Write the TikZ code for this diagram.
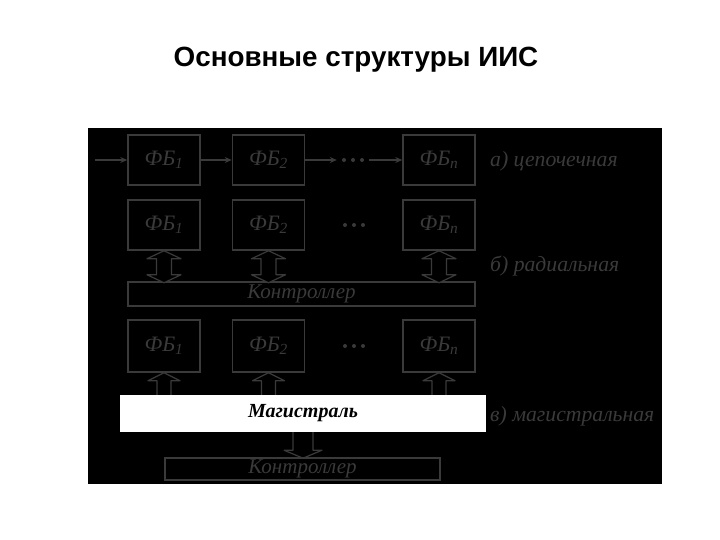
\documentclass[tikz,border=0pt]{standalone}
\usepackage{fontspec}
\setmainfont{Liberation Serif}
\newfontfamily\titlefont{Liberation Sans}
\usetikzlibrary{arrows.meta}
\definecolor{dk}{HTML}{3A3A3A}
\tikzset{
  fbbox/.style={draw=dk, line width=1.5pt, fill=black, minimum width=72pt, minimum height=50pt,
    inner sep=0pt, text=dk, font=\fontsize{22}{24}\selectfont\itshape},
  ctrl/.style={draw=dk, line width=1.5pt, fill=black, inner sep=0pt, text=dk,
    font=\fontsize{21}{22}\selectfont\itshape},
  dotsnode/.style={inner sep=0pt, minimum width=32pt, minimum height=8pt},
  dotmark/.style={fill=dk},
  conn/.style={draw=dk, line width=1.2pt, -{Stealth[length=7pt,width=6pt]}},
  lbl/.style={anchor=base west, inner sep=0pt, text=dk, font=\fontsize{21.7}{23}\selectfont\itshape},
  hol/.style={draw=dk, line width=1.2pt, fill=black, line join=round},
  dbl/.pic={\draw[hol] (0,0) -- (17,8) -- (7.5,8) -- (7.5,24) -- (17,24) -- (0,32) -- (-17,24) -- (-7.5,24) -- (-7.5,8) -- (-17,8) -- cycle;},
  uparr/.pic={\draw[hol] (-7,23) -- (-7,8) -- (-16,8) -- (0,0) -- (16,8) -- (7,8) -- (7,23);},
  dnarr/.pic={\draw[hol] (-10,0) -- (-10,18) -- (-19,18) -- (0,26) -- (19,18) -- (10,18) -- (10,0);}
}
\newcommand\threedots[1]{%
  \fill[dotmark] ([xshift=-9pt]#1.center) circle (2pt);
  \fill[dotmark] (#1.center) circle (2pt);
  \fill[dotmark] ([xshift=9pt]#1.center) circle (2pt);}
\begin{document}
\begin{tikzpicture}[x=1pt, y=-1pt]
\useasboundingbox (0,0) rectangle (720,540);
\fill[white] (0,0) rectangle (720,540);
\node[anchor=base, inner sep=0pt, font=\titlefont\bfseries\fontsize{27.8}{32}\selectfont] (title) at (356,67) {Основные структуры ИИС};
\node[fill=black, minimum width=574pt, minimum height=356pt, inner sep=0pt] (bg) at (375,306) {};
% a) chain
\node[fbbox] (a1) at (164,160) {ФБ\textsubscript{1}};
\node[fbbox] (a2) at (268.5,160) {ФБ\textsubscript{2}};
\node[fbbox] (an) at (439,160) {ФБ\textsubscript{n}};
\node[dotsnode] (d1) at (353,160) {};
\threedots{d1}
\coordinate (in) at (95,160);
\draw[conn] (in) -- (a1);
\draw[conn] (a1) -- (a2);
\draw[conn] (a2) -- (d1);
\draw[conn] (d1) -- (an);
\node[lbl] (la) at (490,167) {а) цепочечная};
% b) radial
\node[fbbox] (b1) at (164,225) {ФБ\textsubscript{1}};
\node[fbbox] (b2) at (268.5,225) {ФБ\textsubscript{2}};
\node[fbbox] (bn) at (439,225) {ФБ\textsubscript{n}};
\node[dotsnode] (d2) at (354,225) {};
\threedots{d2}
\node[ctrl, minimum width=347pt, minimum height=24pt] (c1) at (301.5,294) {Контроллер};
\pic at (b1.south) {dbl};
\pic at (b2.south) {dbl};
\pic at (bn.south) {dbl};
\node[lbl] (lb) at (490,271) {б) радиальная};
% c) bus
\node[fbbox, minimum height=52pt] (m1) at (164,346) {ФБ\textsubscript{1}};
\node[fbbox, minimum height=52pt] (m2) at (268.5,346) {ФБ\textsubscript{2}};
\node[fbbox, minimum height=52pt] (mn) at (439,346) {ФБ\textsubscript{n}};
\node[dotsnode] (d3) at (354,346) {};
\threedots{d3}
\pic at (m1.south) {uparr};
\pic at (m2.south) {uparr};
\pic at (mn.south) {uparr};
\node[fill=white, minimum width=366pt, minimum height=37pt, inner sep=0pt,
  font=\fontsize{20}{22}\selectfont\bfseries\itshape] (mag) at (303,413.5) {Магистраль};
\pic at (mag.south) {dnarr};
\node[ctrl, minimum width=275pt, minimum height=22pt] (c2) at (302.5,469) {Контроллер};
\node[lbl] (lc) at (490,421) {в) магистральная};
\end{tikzpicture}
\end{document}
